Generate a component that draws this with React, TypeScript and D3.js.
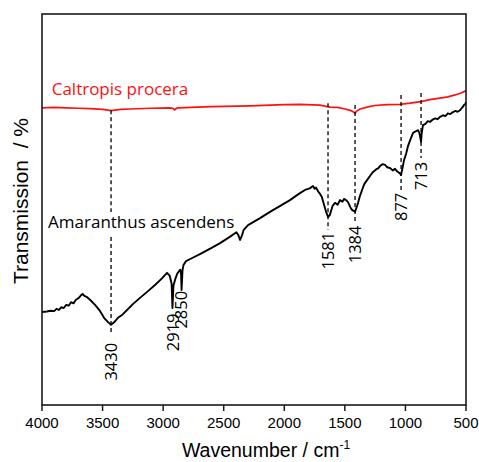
import React from 'react';
import * as d3 from 'd3';

// FTIR spectra, values (transmission in arbitrary units)
const blackWavenumbers = [
  4000, 3960, 3930, 3900, 3880, 3860, 3840, 3820, 3800, 3780, 3760, 3740, 3720, 3700, 3680, 3665, 3650, 3629,
  3600, 3562, 3520, 3488, 3455, 3430, 3400, 3373, 3340, 3298, 3250, 3191, 3130, 3067, 3010, 2968, 2945, 2930,
  2923, 2915, 2902, 2885, 2870, 2858, 2852, 2848, 2840, 2832, 2811, 2760, 2696, 2600, 2530, 2450, 2395, 2380,
  2365, 2350, 2335, 2299, 2200, 2118, 2030, 1953, 1880, 1829, 1790, 1763, 1750, 1738, 1720, 1705, 1690, 1672,
  1655, 1639, 1625, 1614, 1600, 1581, 1560, 1540, 1520, 1507, 1490, 1474, 1455, 1441, 1425, 1416, 1405, 1391,
  1375, 1358, 1340, 1317, 1290, 1267, 1240, 1225, 1210, 1190, 1168, 1150, 1127, 1105, 1086, 1070, 1061, 1045,
  1036, 1025, 1011, 995, 979, 960, 937, 915, 896, 885, 876, 871, 866, 855, 835, 815, 797, 775, 755, 735, 714,
  690, 670, 650, 630, 607, 590, 570, 549, 530, 517, 505, 500,
];
const blackValues = [
  23.8, 23.9, 24.1, 24.0, 24.6, 24.3, 25.0, 24.8, 25.6, 25.4, 26.3, 26.0, 26.9, 27.3, 28.0, 28.4, 27.9, 27.6,
  26.8, 25.6, 24.0, 22.3, 21.2, 20.5, 21.3, 22.3, 23.0, 24.3, 25.8, 27.4, 29.0, 30.7, 32.4, 33.8, 33.0, 31.0,
  24.8, 30.5, 32.0, 33.5, 34.2, 34.6, 33.5, 29.4, 34.5, 35.8, 36.8, 37.6, 38.6, 40.2, 41.4, 43.0, 44.2, 43.5,
  42.2, 43.3, 44.8, 46.0, 47.8, 49.4, 51.0, 52.4, 54.0, 55.0, 55.4, 56.0, 55.3, 55.6, 54.6, 54.0, 53.2, 51.2,
  49.4, 48.1, 48.5, 49.6, 51.0, 51.7, 51.2, 52.4, 52.0, 52.7, 52.4, 51.9, 50.6, 49.9, 49.6, 49.4, 50.4, 51.7,
  53.5, 55.0, 56.5, 57.5, 58.7, 59.6, 60.3, 60.5, 61.1, 61.6, 61.4, 60.8, 60.6, 60.0, 60.4, 59.8, 59.6, 59.2,
  58.8, 60.5, 62.7, 64.2, 66.2, 67.8, 69.6, 70.0, 70.3, 69.6, 68.2, 67.3, 69.5, 71.6, 71.9, 72.6, 72.4, 73.0,
  73.3, 73.1, 73.7, 74.1, 73.9, 74.6, 74.4, 74.9, 75.2, 75.0, 75.4, 76.1, 76.7, 77.0, 77.5,
];

const redWavenumbers = [
  4000, 3900, 3800, 3700, 3604, 3500, 3430, 3350, 3274, 3100, 2950, 2920, 2905, 2890, 2877, 2600, 2283, 2000,
  1870, 1705, 1623, 1560, 1499, 1450, 1425, 1416, 1405, 1375, 1300, 1251, 1150, 1045, 962, 871, 800, 714, 650,
  590, 540, 500,
];
const redValues = [
  76.0, 76.1, 76.0, 75.9, 75.8, 75.6, 75.3, 75.6, 75.7, 75.9, 76.0, 75.9, 75.5, 75.9, 76.0, 76.3, 76.5, 76.8,
  76.9, 76.7, 76.2, 76.1, 75.7, 75.3, 74.9, 74.6, 75.1, 75.7, 76.3, 76.6, 76.8, 76.9, 77.2, 77.6, 78.1, 78.5, 78.8,
  79.3, 79.8, 80.4,
];

// peak annotations: where the line sits, its label, dashed span and label top
const peakPositions = [3430, 2919, 2850, 1639, 1416, 1036, 871];
const peakLabels = ['3430', '2919', '2850', '1581', '1384', '877', '713'];
const peakDashTop = [75.4, null, null, 77.2, 76.7, 79.3, 79.8];
const peakDashBottom = [17.9, null, null, 44.8, 46.5, 55.0, 63.2];
const peakLabelTop = [15.9, 23.4, 29.2, 44.3, 45.9, 54.3, 62.2];

const xTicks = [4000, 3500, 3000, 2500, 2000, 1500, 1000, 500];

const width = 479;
const height = 462;
const margin = { left: 42, right: 13, top: 14, bottom: 57 };

const annoFont = '"Open Sans", "Noto Sans", sans-serif';
const axisFont = '"Liberation Sans", Arial, sans-serif';

export default function App() {
  const x = d3.scaleLinear().domain([4000, 500]).range([margin.left, width - margin.right]);
  const y = d3.scaleLinear().domain([0, 100]).range([height - margin.bottom, margin.top]);

  const line = d3.line<[number, number]>()
    .x(d => x(d[0]))
    .y(d => y(d[1]));

  const black = blackWavenumbers.map((w, i) => [w, blackValues[i]] as [number, number]);
  const red = redWavenumbers.map((w, i) => [w, redValues[i]] as [number, number]);

  const plotBottom = height - margin.bottom;
  const textY = y(45.3);

  return (
    <svg width={width} height={height} style={{ position: 'absolute', left: 0, top: 0, background: '#fff' }}>
      <path d={line(red) || ''} fill="none" stroke="#ff1010" strokeWidth={1.7} />
      <path d={line(black) || ''} fill="none" stroke="#000" strokeWidth={1.9} strokeLinejoin="round" />

      {peakPositions.map((p, i) => {
        const top = peakDashTop[i];
        const bottom = peakDashBottom[i];
        const px = x(p);
        const labelTop = y(peakLabelTop[i]);
        return (
          <g key={peakLabels[i]}>
            {top !== null && bottom !== null && (i === 0 ? (
              <>
                <line x1={px} x2={px} y1={y(top)} y2={textY - 16} stroke="#000" strokeWidth={1.3} strokeDasharray="4,3" />
                <line x1={px} x2={px} y1={textY + 9} y2={y(bottom)} stroke="#000" strokeWidth={1.3} strokeDasharray="4,3" />
              </>
            ) : (
              <line x1={px} x2={px} y1={y(top)} y2={y(bottom)} stroke="#000" strokeWidth={1.3} strokeDasharray="4,3" />
            ))}
            <text
              transform={`translate(${px + 6},${labelTop}) rotate(-90)`}
              textAnchor="end"
              fontFamily={annoFont}
              fontSize={16.5}
              fill="#000"
            >
              {peakLabels[i]}
            </text>
          </g>
        );
      })}

      <text x={x(3920)} y={y(79.4)} fontFamily={annoFont} fontSize={17} fill="#ff1010">Caltropis procera</text>
      <text x={x(3950)} y={textY} fontFamily={annoFont} fontSize={17} fill="#000">Amaranthus ascendens</text>

      <rect
        x={margin.left}
        y={margin.top}
        width={width - margin.left - margin.right}
        height={plotBottom - margin.top}
        fill="none"
        stroke="#1a1a1a"
        strokeWidth={1.6}
      />

      {xTicks.map(t => (
        <g key={t} transform={`translate(${x(t)},${plotBottom})`}>
          <line y1={0} y2={6} stroke="#1a1a1a" strokeWidth={1.5} />
          <text y={23} textAnchor="middle" fontFamily={axisFont} fontSize={15} fill="#000">{t}</text>
        </g>
      ))}

      <text x={266} y={457} textAnchor="middle" fontFamily={axisFont} fontSize={19.5} fill="#000">
        Wavenumber / cm<tspan dy={-8} fontSize={12}>-1</tspan>
      </text>
      <text
        transform="translate(28,201) rotate(-90)"
        textAnchor="middle"
        fontFamily={axisFont}
        fontSize={21}
        fill="#000"
        style={{ whiteSpace: 'pre' }}
      >
        {'Transmission  / %'}
      </text>
    </svg>
  );
}
